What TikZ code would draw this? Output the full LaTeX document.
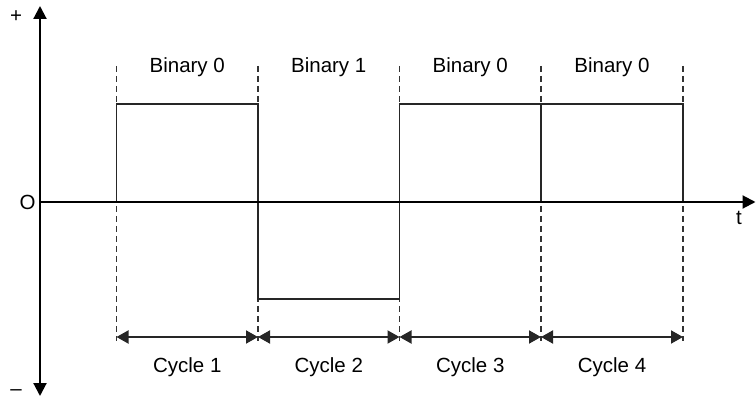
\documentclass[tikz,border=0pt]{standalone}
\usepackage{fontspec}
\setmainfont{Liberation Sans}
\usetikzlibrary{arrows.meta}
\begin{document}
\begin{tikzpicture}[x=1pt,y=-1pt,
  axisline/.style={line width=2.1pt,-{Triangle[length=13pt,width=13pt]}},
  guide/.style={line width=1.9pt,dash pattern=on 6pt off 4pt,black!80},
  sig/.style={line width=1.9pt,black!85,line join=miter},
  cyc/.style={line width=1.9pt,black!85,{Triangle[length=12pt,width=13pt]}-{Triangle[length=12pt,width=13pt]}},
  lbl/.style={font=\fontsize{20.5}{24}\selectfont,inner sep=0pt,anchor=base}]
\useasboundingbox (0,0) rectangle (756,401);
% coordinates
\coordinate (o) at (40,202);
\coordinate (ytop) at (40,6);
\coordinate (ybot) at (40,396);
\coordinate (xend) at (755.5,202);
\foreach \i/\x in {1/116.5,2/258,3/399.5,4/541,5/683}{
  \coordinate (d\i t) at (\x,66);
  \coordinate (d\i b) at (\x,341);
  \coordinate (c\i) at (\x,337);
  \coordinate (h\i) at (\x,104);
  \coordinate (l\i) at (\x,299);
  \coordinate (z\i) at (\x,202);
}
% guides
\foreach \i in {1,...,5}{\draw[guide] (d\i t) -- (d\i b);}
% signal
\draw[sig] (z1) -- (h1) -- (h2) -- (l2) -- (l3) -- (h3) -- (h5) -- (z5);
\draw[sig] (h4) -- (z4);
% axes
\draw[axisline] (o) -- (ytop);
\draw[axisline] (o) -- (ybot);
\draw[axisline] (o) -- (xend);
% cycle arrows
\draw[cyc] (c1) -- (c2);
\draw[cyc] (c2) -- (c3);
\draw[cyc] (c3) -- (c4);
\draw[cyc] (c4) -- (c5);
% labels
\node[lbl] (plus) at (16,23) {+};
\node[lbl] (minus) at (16,395) {\textendash};
\node[lbl,anchor=center] (O) at (27.5,202) {O};
\node[lbl,anchor=center] (t) at (739,218) {t};
\node[lbl] (b1) at (187.25,72.5) {Binary 0};
\node[lbl] (b2) at (328.75,72.5) {Binary 1};
\node[lbl] (b3) at (470.25,72.5) {Binary 0};
\node[lbl] (b4) at (612,72.5) {Binary 0};
\node[lbl] (cy1) at (187.25,372) {Cycle 1};
\node[lbl] (cy2) at (328.75,372) {Cycle 2};
\node[lbl] (cy3) at (470.25,372) {Cycle 3};
\node[lbl] (cy4) at (612,372) {Cycle 4};
\end{tikzpicture}
\end{document}
